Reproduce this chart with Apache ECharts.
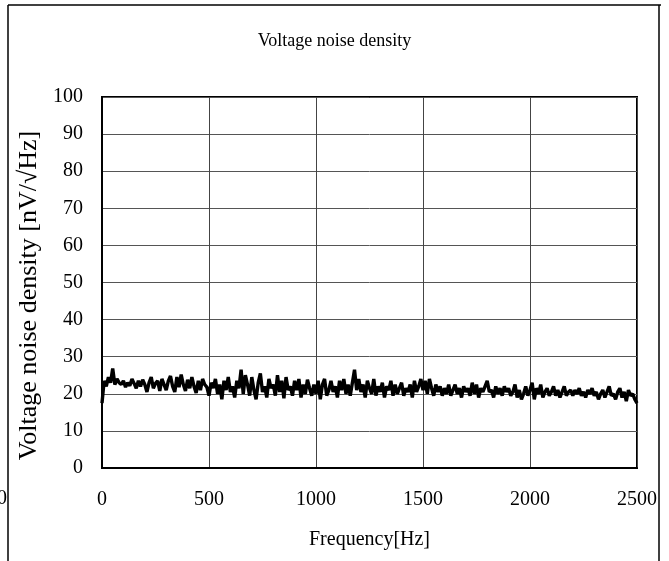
<!DOCTYPE html>
<html>
<head>
<meta charset="utf-8">
<script src="https://cdn.jsdelivr.net/npm/echarts@6/dist/echarts.min.js"></script>
<style>
html,body{margin:0;padding:0;background:#fff;}
#chart{width:669px;height:561px;}
</style>
</head>
<body>
<div id="chart"></div>
<script>
const title = "Voltage noise density";
const xName = "Frequency[Hz]";
const yName = "Voltage noise density [nV/\u221AHz]";
const xTicks = [0, 500, 1000, 1500, 2000, 2500];
const yTicks = [0, 10, 20, 30, 40, 50, 60, 70, 80, 90, 100];
const freqStep = 10; // Hz between samples
const noise = [
  17.5, 23.5, 22.0, 24.5, 23.0, 26.8, 22.5, 24.0, 23.0, 22.5,
  23.5, 21.8, 23.0, 22.2, 24.0, 22.8, 21.5, 23.5, 22.0, 23.8,
  22.5, 20.5, 23.0, 24.5, 21.5, 22.8, 23.5, 20.8, 24.0, 22.5,
  21.0, 23.5, 24.8, 22.0, 20.5, 24.5, 21.8, 25.2, 22.5, 20.8,
  23.8, 21.5, 24.5, 22.0, 20.2, 23.5, 21.0, 24.0, 22.5, 21.8,
  19.5, 23.0, 21.5, 24.0, 20.0, 22.5, 18.5, 23.5, 21.0, 24.5,
  20.5, 22.0, 19.0, 23.5, 21.5, 26.5, 20.0, 25.0, 22.5, 19.5,
  24.5, 21.0, 18.5, 23.0, 25.5, 20.5, 22.0, 19.0, 24.0, 21.5,
  22.5, 19.5, 25.0, 20.5, 23.5, 18.8, 24.5, 21.0, 22.0, 19.5,
  23.5, 21.0, 24.0, 19.0, 22.5, 20.0, 23.8, 21.5, 19.5, 22.5,
  20.0, 23.5, 18.5, 22.5, 24.0, 19.5, 21.0, 23.5, 20.5, 22.0,
  19.0, 23.5, 21.0, 24.0, 20.0, 22.5, 19.5, 23.0, 26.5, 21.0,
  24.0, 20.5, 22.5, 19.0, 23.5, 21.5, 20.0, 24.0, 19.5, 22.0,
  20.5, 23.0, 19.0, 22.0, 21.0, 23.5, 19.5, 22.5, 20.0, 21.5,
  23.0, 19.5, 21.5, 20.5, 22.5, 19.0, 23.5, 20.5, 22.0, 24.0,
  21.0, 23.5, 20.0, 24.0, 21.5, 19.5, 22.5, 20.5, 22.0, 19.5,
  21.5, 20.0, 22.5, 19.5, 21.0, 22.5, 20.0, 21.5, 19.0, 22.0,
  20.5, 21.5, 19.5, 23.0, 20.0, 22.5, 19.0, 21.5, 20.5, 22.0,
  23.5, 20.5, 21.0, 19.0, 22.0, 20.0, 21.5, 19.5, 22.0, 20.5,
  21.5, 19.5, 20.5, 22.5, 19.0, 21.0, 18.5, 20.0, 22.0, 19.5,
  21.0, 23.0, 18.5, 21.5, 20.0, 22.5, 19.0, 20.5, 21.5, 19.5,
  20.5, 22.0, 19.5, 21.0, 19.0, 20.5, 22.0, 19.5, 20.5, 21.0,
  19.5, 21.0, 20.0, 21.5, 19.5, 20.5, 19.0, 21.0, 20.0, 21.5,
  19.5, 20.5, 18.5, 20.0, 21.0, 19.0, 20.5, 22.0, 19.5, 20.0,
  18.5, 20.5, 21.5, 19.0, 20.5, 18.0, 21.0, 19.5, 20.0, 18.5,
  17.5
];

const seriesData = noise.map((v, i) => [i * freqStep, v]);
const font = '"Liberation Serif", "Times New Roman", serif';

const chart = echarts.init(document.getElementById('chart'), null, {renderer: 'canvas'});
chart.setOption({
  animation: false,
  backgroundColor: '#fff',
  title: {
    text: title, left: 'center', top: 27,
    textStyle: {fontFamily: font, fontSize: 18, fontWeight: 'normal', color: '#000'}
  },
  grid: {left: 102, right: 32, top: 97, bottom: 93, show: true, borderColor: '#000', borderWidth: 2, backgroundColor: 'transparent'},
  xAxis: {
    type: 'value', min: xTicks[0], max: xTicks[xTicks.length - 1], interval: 500,
    name: xName, nameLocation: 'middle', nameGap: 62,
    nameTextStyle: {fontFamily: font, fontSize: 20, color: '#000'},
    axisLine: {show: true, lineStyle: {color: '#000', width: 2}},
    axisTick: {show: false},
    axisLabel: {fontFamily: font, fontSize: 20, color: '#000', margin: 22, formatter: v => String(v)},
    splitLine: {show: true, lineStyle: {color: '#444', width: 1}}
  },
  yAxis: {
    type: 'value', min: yTicks[0], max: yTicks[yTicks.length - 1], interval: 10,
    name: yName, nameLocation: 'middle', nameGap: 60, nameRotate: 90,
    nameTextStyle: {fontFamily: font, fontSize: 26, color: '#000', padding: [0, 26, 0, 0]},
    axisLine: {show: true, lineStyle: {color: '#000', width: 2}},
    axisTick: {show: false},
    axisLabel: {fontFamily: font, fontSize: 20, color: '#000', margin: 19},
    splitLine: {show: true, lineStyle: {color: '#555', width: 1}}
  },
  series: [{
    type: 'line', data: seriesData, showSymbol: false, symbol: 'none',
    lineStyle: {color: '#000', width: 3.4}, z: 5
  }],
  graphic: [
    {type: 'line', shape: {x1: 8, y1: 5, x2: 8, y2: 561}, style: {stroke: '#000', lineWidth: 1.5}},
    {type: 'line', shape: {x1: 8, y1: 5, x2: 661, y2: 5}, style: {stroke: '#000', lineWidth: 1.5}},
    {type: 'line', shape: {x1: 659, y1: 5, x2: 659, y2: 561}, style: {stroke: '#000', lineWidth: 1.5}},
    {type: 'text', left: -3, top: 489, style: {text: '0', font: '20px ' + font, fill: '#000'}}
  ]
});
</script>
</body>
</html>
